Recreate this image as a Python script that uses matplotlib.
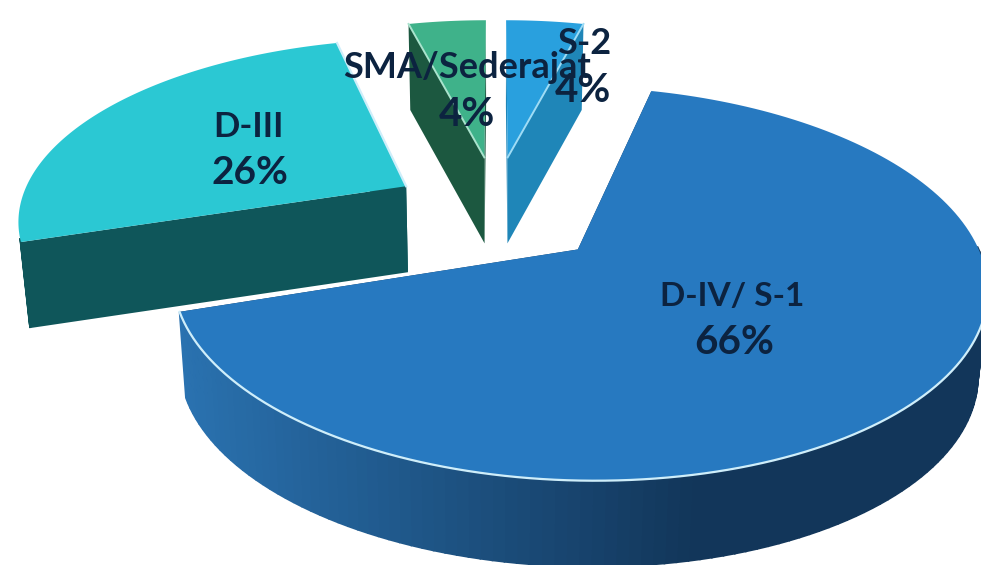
from matplotlib import pyplot as plt
from matplotlib.patches import Polygon
from matplotlib.colors import to_rgb
import numpy as np

# Datos del grafico
categorias = ["D-IV/ S-1", "D-III", "SMA/Sederajat", "S-2"]
porcentajes = [66, 26, 4, 4]
etiquetas_pct = ["66%", "26%", "4%", "4%"]

# Estilo de cada rebanada
color_cara = ["#2779c0", "#2bc8d3", "#3fb28a", "#29a0de"]
color_lado = ["#12365a", "#0f565a", "#1c5840", "#1f86b8"]
separacion = [0.28, 0.27, 0.25, 0.25]
radio = [1, 1, 0.96, 0.96]
ajuste_y = [1, -4, -13, -13]
pos_nombre = [(732, 296), (249, 127), (467, 68), (584, 44)]
pos_pct = [(734, 342), (250, 172), (467, 115), (583, 90)]
tam_nombre = [24, 25, 26, 26]
tam_pct = [29, 28, 29, 29]
color_texto = "#0c2340"

# Proyeccion del disco a pixeles
ANCHO, ALTO = 981, 565
CX, CY = 496, 213
A, B, K = 388, 179, 0.168
GROSOR = 86
ENCOGE = 0.98
INICIO = 75.6


def proyectar(u, v):
    w = 1 + K * v
    return CX + A * u / w, CY - B * v / w


def abajo(x, y):
    return CX + (x - CX) * ENCOGE, y + GROSOR


def mezcla(c1, c2, t):
    c1, c2 = np.array(to_rgb(c1)), np.array(to_rgb(c2))
    return tuple(c1 + (c2 - c1) * t)


fig = plt.figure(figsize=(ANCHO / 100, ALTO / 100), dpi=100)
ax = fig.add_axes([0, 0, 1, 1])
ax.set_xlim(0, ANCHO)
ax.set_ylim(ALTO, 0)
ax.axis("off")

# Angulos de cada rebanada, en sentido horario
barridos = np.array(porcentajes) / sum(porcentajes) * 360
fines = INICIO - np.cumsum(barridos)
inicios = fines + barridos

# Se dibuja de atras hacia adelante
for i in [2, 3, 1, 0]:
    medio = np.radians((inicios[i] + fines[i]) / 2)
    ou, ov = separacion[i] * np.cos(medio), separacion[i] * np.sin(medio)
    ang = np.radians(np.linspace(inicios[i], fines[i], 160))
    xs, ys = proyectar(ou + radio[i] * np.cos(ang), ov + radio[i] * np.sin(ang))
    ys = ys + ajuste_y[i]
    ax_x, ax_y = proyectar(ou, ov)
    ax_y = ax_y + ajuste_y[i]
    bx, by = abajo(xs, ys)
    bax, bay = abajo(ax_x, ax_y)

    # caras radiales
    for j in [0, -1]:
        ax.add_patch(Polygon([(ax_x, ax_y), (xs[j], ys[j]), (bx[j], by[j]), (bax, bay)],
                             fc=color_lado[i], ec="none", zorder=i + 1))

    # pared exterior con degradado, solo la parte que mira al frente
    for j in range(len(ang) - 1):
        if ov + radio[i] * np.sin(ang[j]) > -K:
            continue
        if i == 0:
            t = np.clip((xs[j] - 180) / 520, 0, 1)
            color = mezcla("#2a72b0", color_lado[0], t)
        else:
            color = color_lado[i]
        ax.add_patch(Polygon([(xs[j], ys[j]), (xs[j + 1], ys[j + 1]), (bx[j + 1], by[j + 1]), (bx[j], by[j])],
                             fc=color, ec=color, lw=1.2, zorder=i + 1))

    # cara superior
    ax.add_patch(Polygon(np.column_stack([np.r_[ax_x, xs], np.r_[ax_y, ys]]),
                         fc=color_cara[i], ec="none", zorder=i + 1.5))

    # brillo claro donde la cara toca las paredes visibles
    if i == 0:
        visibles = np.sin(ang) < -0.05
        ax.plot(np.where(visibles, xs, np.nan), np.where(visibles, ys, np.nan),
                color="#cfeefa", lw=1.6, zorder=i + 1.6)
    if i == 1:
        ax.plot([ax_x, xs[-1]], [ax_y, ys[-1]], color="#cfeefa", lw=1.6, zorder=i + 1.6)
    if i == 2:
        ax.plot([ax_x, xs[0]], [ax_y, ys[0]], color="#a9e3cd", lw=1.4, zorder=i + 1.6)
    if i == 3:
        ax.plot([ax_x, xs[-1]], [ax_y, ys[-1]], color="#9fdcf5", lw=1.4, zorder=i + 1.6)

# Etiquetas
for i in range(len(categorias)):
    ax.text(pos_nombre[i][0], pos_nombre[i][1], categorias[i], ha="center", va="center",
            color=color_texto, fontsize=tam_nombre[i], fontweight="bold", family="Lato", zorder=10)
    ax.text(pos_pct[i][0], pos_pct[i][1], etiquetas_pct[i], ha="center", va="center",
            color=color_texto, fontsize=tam_pct[i], fontweight="bold", family="Lato", zorder=10)

fig.savefig("out.png", dpi=100, facecolor="white")
